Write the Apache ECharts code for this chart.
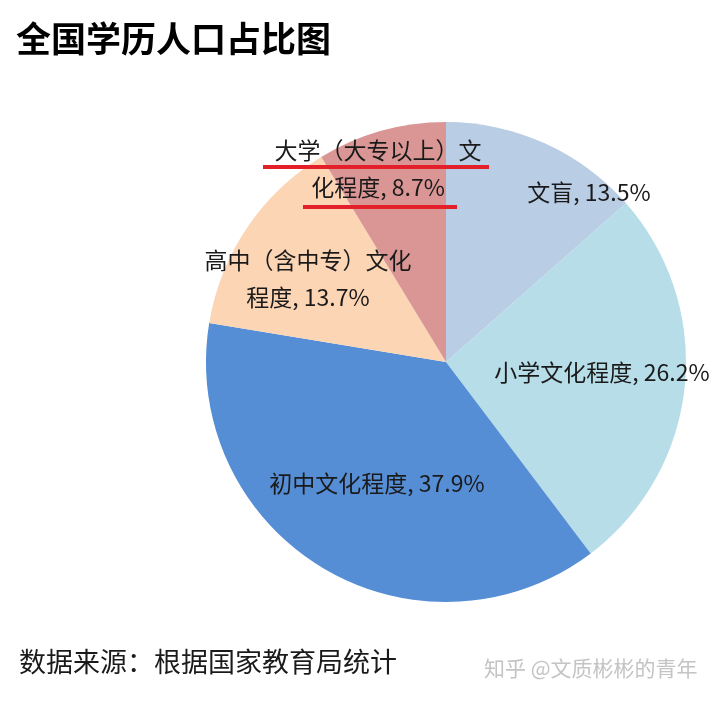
<!DOCTYPE html>
<html>
<head>
<meta charset="utf-8">
<script src="https://cdn.jsdelivr.net/npm/echarts@6/dist/echarts.min.js"></script>
<style>
html,body{margin:0;padding:0;background:#fff;}
#chart{width:720px;height:704px;}
</style>
</head>
<body>
<div id="chart"></div>
<script>
var categories = ['文盲', '小学文化程度', '初中文化程度', '高中（含中专）文化程度', '大学（大专以上）文化程度'];
var shares = [13.5, 26.2, 37.9, 13.7, 8.7];
var sliceColors = ['#b9cde5', '#b7dde8', '#558ed5', '#fcd5b5', '#d99694'];
var titleText = '全国学历人口占比图';
var sourceText = '数据来源：根据国家教育局统计';
var watermarkText = '知乎 @文质彬彬的青年';

var labelPos = [[589, 192], [602, 372], [377, 483], [308, 279], [378, 169]];
var FONT = '"Noto Sans CJK SC", "Noto Sans", sans-serif';

var chart = echarts.init(document.getElementById('chart'), null, {renderer: 'canvas'});
var data = categories.map(function (c, i) {
  var item = {name: c, value: shares[i], itemStyle: {color: sliceColors[i]}};
  if (i >= 3) {
    item.label = {width: 220, overflow: 'break'};
  }
  return item;
});

chart.setOption({
  animation: false,
  backgroundColor: '#ffffff',
  title: {
    text: titleText,
    left: 11,
    top: 16,
    textStyle: {fontFamily: FONT, fontSize: 35, fontWeight: 'bold', color: '#000000'}
  },
  series: [{
    type: 'pie',
    center: [446, 362],
    radius: 240,
    startAngle: 90,
    clockwise: true,
    avoidLabelOverlap: false,
    silent: true,
    itemStyle: {borderWidth: 0},
    label: {
      show: true,
      position: 'inside',
      formatter: function (p) { return p.name + ', ' + p.value + '%'; },
      fontFamily: FONT,
      fontSize: 23,
      lineHeight: 37,
      color: '#1a1a1a',
      align: 'center'
    },
    labelLine: {show: false},
    labelLayout: function (params) {
      var pos = labelPos[params.dataIndex];
      return {x: pos[0], y: pos[1], align: 'center', verticalAlign: 'middle'};
    },
    emphasis: {disabled: true},
    data: data
  }],
  graphic: [
    {type: 'line', z: 100, zlevel: 1, shape: {x1: 263, y1: 167, x2: 489, y2: 167}, style: {stroke: '#e3202a', lineWidth: 4}},
    {type: 'line', z: 100, zlevel: 1, shape: {x1: 303, y1: 207, x2: 457, y2: 207}, style: {stroke: '#e3202a', lineWidth: 4}},
    {type: 'text', left: 19, top: 648, style: {text: sourceText, font: '27px "Noto Sans CJK SC", sans-serif', fill: '#1a1a1a'}},
    {type: 'text', left: 484, top: 658, style: {text: watermarkText, font: '21px "Noto Sans CJK SC", sans-serif', fill: '#c4c4c4'}}
  ]
});
</script>
</body>
</html>
